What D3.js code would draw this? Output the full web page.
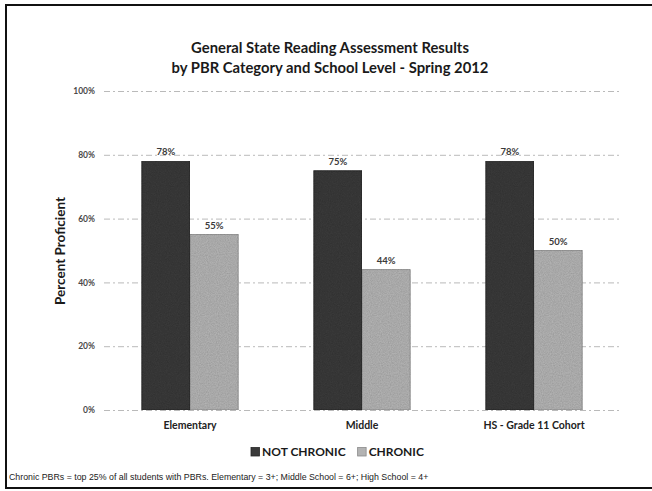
<!DOCTYPE html>
<html>
<head>
<meta charset="utf-8">
<script src="https://cdn.jsdelivr.net/npm/d3@7"></script>
<style>
  html, body { margin: 0; padding: 0; background: #fff; }
  svg { display: block; }
</style>
</head>
<body>
<svg id="chart" width="652" height="491"></svg>
<script>
// School levels and reading proficiency by PBR category
const levels = ["Elementary", "Middle", "HS - Grade 11 Cohort"];
const seriesNames = ["NOT CHRONIC", "CHRONIC"];
const notChronic = [78, 75, 78];
const chronic = [55, 44, 50];
const yTicks = [0, 20, 40, 60, 80, 100];

const rows = levels.map((lv, i) => ({
  level: lv,
  values: [
    { key: seriesNames[0], value: notChronic[i] },
    { key: seriesNames[1], value: chronic[i] }
  ]
}));

const svg = d3.select("#chart");
const plot = { left: 104, right: 620, top: 91, bottom: 410 };

const fills = { "NOT CHRONIC": "#3a3a3a", "CHRONIC": "#b3b3b3" };
const strokes = { "NOT CHRONIC": "#262626", "CHRONIC": "#8a8a8a" };

// speckle filter gives the bars their printed grain
const defs = svg.append("defs");
const f = defs.append("filter").attr("id", "grain").attr("x", 0).attr("y", 0).attr("width", 1).attr("height", 1);
f.append("feTurbulence").attr("type", "fractalNoise").attr("baseFrequency", 0.9).attr("numOctaves", 2).attr("seed", 3).attr("result", "noise");
f.append("feColorMatrix").attr("in", "noise").attr("type", "matrix")
  .attr("values", "0 0 0 0 0  0 0 0 0 0  0 0 0 0 0  0 0 0 0.35 -0.05").attr("result", "speck");
f.append("feComposite").attr("in", "speck").attr("in2", "SourceGraphic").attr("operator", "in").attr("result", "sp2");
f.append("feMerge").call(m => { m.append("feMergeNode").attr("in", "SourceGraphic"); m.append("feMergeNode").attr("in", "sp2"); });

// outer frame
svg.append("rect").attr("x", 6).attr("y", 5).attr("width", 660).attr("height", 483)
  .attr("fill", "#fff").attr("stroke", "#111").attr("stroke-width", 2);

const x0 = d3.scaleBand().domain(levels).range([plot.left, plot.right]).paddingInner(0.44).paddingOuter(0.22);
const x1 = d3.scaleBand().domain(seriesNames).range([0, x0.bandwidth()]).padding(0);
const y = d3.scaleLinear().domain([0, 100]).range([plot.bottom, plot.top]);

// gridlines + tick labels
const yAxis = d3.axisLeft(y).tickValues(yTicks).tickFormat(d => d + "%")
  .tickSize(-(plot.right - plot.left)).tickPadding(9);
const gy = svg.append("g").attr("transform", `translate(${plot.left},0)`).call(yAxis);
gy.select(".domain").remove();
gy.selectAll(".tick line").attr("stroke", "#a8a8a8").attr("stroke-width", 0.8).attr("stroke-dasharray", "6,3,2,3");
gy.selectAll(".tick text").attr("font-family", "Lato, 'Open Sans', sans-serif").attr("font-size", 8.5)
  .attr("font-weight", "bold").attr("fill", "#4a4a4a");

// bars
const groups = svg.append("g").selectAll("g").data(rows).join("g")
  .attr("transform", d => `translate(${x0(d.level)},0)`);
groups.selectAll("rect").data(d => d.values).join("rect")
  .attr("x", d => x1(d.key))
  .attr("y", d => y(d.value))
  .attr("width", x1.bandwidth())
  .attr("height", d => y(0) - y(d.value))
  .attr("fill", d => fills[d.key])
  .attr("stroke", d => strokes[d.key])
  .attr("stroke-width", 0.8)
  .attr("filter", "url(#grain)");

// value labels
groups.selectAll("text").data(d => d.values).join("text")
  .attr("x", d => x1(d.key) + x1.bandwidth() / 2)
  .attr("y", d => y(d.value) - 6)
  .attr("text-anchor", "middle")
  .attr("font-family", "Lato, 'Open Sans', sans-serif")
  .attr("font-size", 9.5).attr("font-weight", "bold").attr("fill", "#3a3a3a")
  .text(d => d.value + "%");

// category labels
const xAxis = d3.axisBottom(x0).tickSize(0).tickPadding(12);
const gx = svg.append("g").attr("transform", `translate(0,${plot.bottom})`).call(xAxis);
gx.select(".domain").remove();
gx.selectAll(".tick text").attr("font-family", "Lato, 'Open Sans', sans-serif").attr("font-size", 10.5)
  .attr("font-weight", "bold").attr("fill", "#222");

// title
const title = svg.append("text").attr("text-anchor", "middle")
  .attr("font-family", "Lato, 'Open Sans', sans-serif").attr("font-size", 14.8)
  .attr("font-weight", "bold").attr("fill", "#1a1a1a");
title.append("tspan").attr("x", 330).attr("y", 53).text("General State Reading Assessment Results");
title.append("tspan").attr("x", 330).attr("y", 73).text("by PBR Category and School Level - Spring 2012");

// y-axis title
svg.append("text").attr("transform", "translate(65,251) rotate(-90)")
  .attr("text-anchor", "middle")
  .attr("font-family", "Lato, 'Open Sans', sans-serif").attr("font-size", 13.5)
  .attr("font-weight", "bold").attr("fill", "#1a1a1a")
  .text("Percent Proficient");

// legend
const legend = svg.append("g").attr("transform", "translate(251,456)");
let lx = 0;
seriesNames.forEach(s => {
  legend.append("rect").attr("x", lx).attr("y", -8.5).attr("width", 8.5).attr("height", 8.5)
    .attr("fill", fills[s]).attr("stroke", strokes[s]).attr("stroke-width", 0.8);
  const t = legend.append("text").attr("x", lx + 11).attr("y", 0)
    .attr("font-family", "Lato, 'Open Sans', sans-serif").attr("font-size", 12)
    .attr("font-weight", "bold").attr("fill", "#1a1a1a").text(s);
  lx += 11 + t.node().getComputedTextLength() + 12;
});

// footnote
svg.append("text").attr("x", 9).attr("y", 480)
  .attr("font-family", "'Liberation Sans', Arial, sans-serif").attr("font-size", 8.8)
  .attr("fill", "#222")
  .text("Chronic PBRs = top 25% of all students with PBRs. Elementary = 3+; Middle School = 6+; High School = 4+");
</script>
</body>
</html>
